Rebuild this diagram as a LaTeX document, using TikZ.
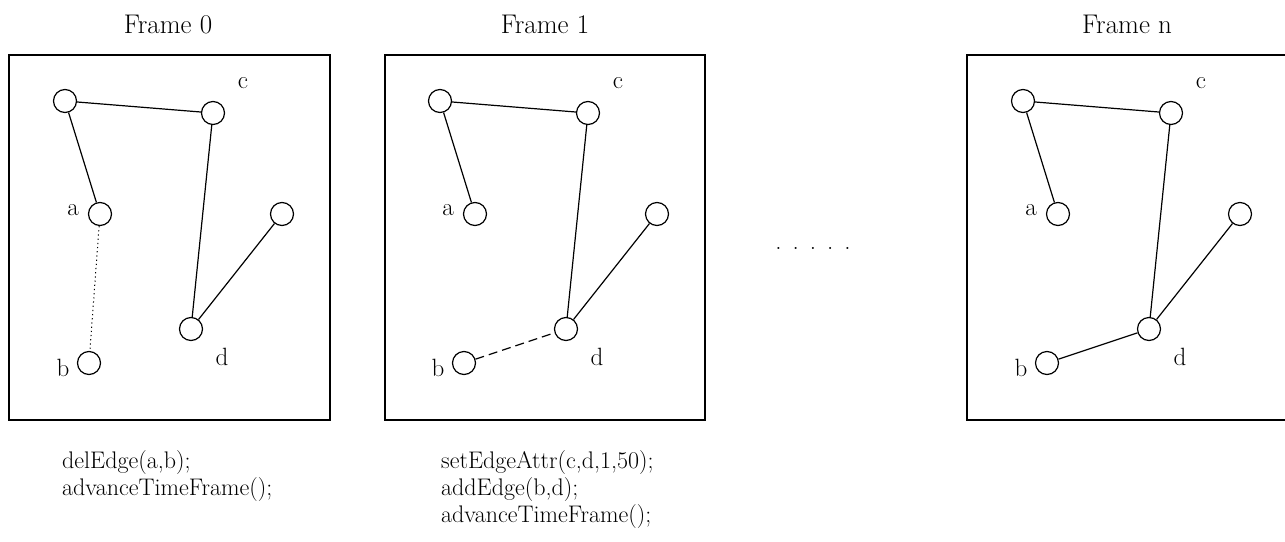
\documentclass[tikz,border=0pt]{standalone}
\usetikzlibrary{calc}
\tikzset{
  vtx/.style={circle,draw,line width=1.2pt,minimum size=23pt,inner sep=0pt},
  edg/.style={line width=1.2pt},
  lbl/.style={font=\fontsize{25}{29}\selectfont,inner sep=0pt},
  code/.style={font=\fontsize{24}{27}\selectfont,inner sep=0pt,anchor=base west},
  ttl/.style={font=\fontsize{27}{31}\selectfont,inner sep=0pt,anchor=base},
  framebox/.style={draw,line width=1.2pt},
}
\newcommand\graphnodes[2]{%
  \begin{scope}[xshift=#2pt]
    \node[vtx] (#1tl) at (65,101) {};
    \node[vtx] (#1c) at (213,113) {};
    \node[vtx] (#1a) at (100,214) {};
    \node[vtx] (#1r) at (282,214) {};
    \node[vtx] (#1d) at (191,329) {};
    \node[vtx] (#1b) at (89,363) {};
    \node[lbl] (#1lc) at (243,83) {c};
    \node[lbl] (#1la) at (73,210) {a};
    \node[lbl] (#1ld) at (222,357) {d};
    \node[lbl] (#1lb) at (63,368) {b};
  \end{scope}}
\begin{document}
\begin{tikzpicture}[x=1pt,y=-1pt]
\clip (0,0) rectangle (1285,541);
\fill[white] (0,0) rectangle (1285,541);
% titles
\node[ttl] (t0) at (168,33) {Frame 0};
\node[ttl] (t1) at (545,33) {Frame 1};
\node[ttl] (tn) at (1127,33) {Frame n};
% boxes
\draw[framebox] (9,55) rectangle (330,420);
\draw[framebox] (385,55) rectangle (705,420);
\draw[framebox] (967,55) rectangle (1289,420);
% frame 0
\graphnodes{p}{0}
\draw[edg] (ptl) -- (pc);
\draw[edg] (ptl) -- (pa);
\draw[edg] (pc) -- (pd);
\draw[edg] (pr) -- (pd);
\draw[line width=1pt,dash pattern=on 1.2pt off 3pt] (pa) -- (pb);
% frame 1
\graphnodes{q}{375}
\draw[edg] (qtl) -- (qc);
\draw[edg] (qtl) -- (qa);
\draw[edg] (qc) -- (qd);
\draw[edg] (qr) -- (qd);
\draw[edg,dash pattern=on 9pt off 5pt] (qb) -- (qd);
% frame n
\graphnodes{s}{958}
\draw[edg] (stl) -- (sc);
\draw[edg] (stl) -- (sa);
\draw[edg] (sc) -- (sd);
\draw[edg] (sr) -- (sd);
\draw[edg] (sb) -- (sd);
% dots
\node[lbl,anchor=base] (dots) at (813,249) {.\hspace{11pt}.\hspace{11pt}.\hspace{11pt}.\hspace{11pt}.};
% code
\node[code] (c01) at (62,468) {delEdge(a,b);};
\node[code] (c02) at (62,495) {advanceTimeFrame();};
\node[code] (c11) at (441,468) {setEdgeAttr(c,d,1,50);};
\node[code] (c12) at (441,495) {addEdge(b,d);};
\node[code] (c13) at (441,522) {advanceTimeFrame();};
\end{tikzpicture}
\end{document}
